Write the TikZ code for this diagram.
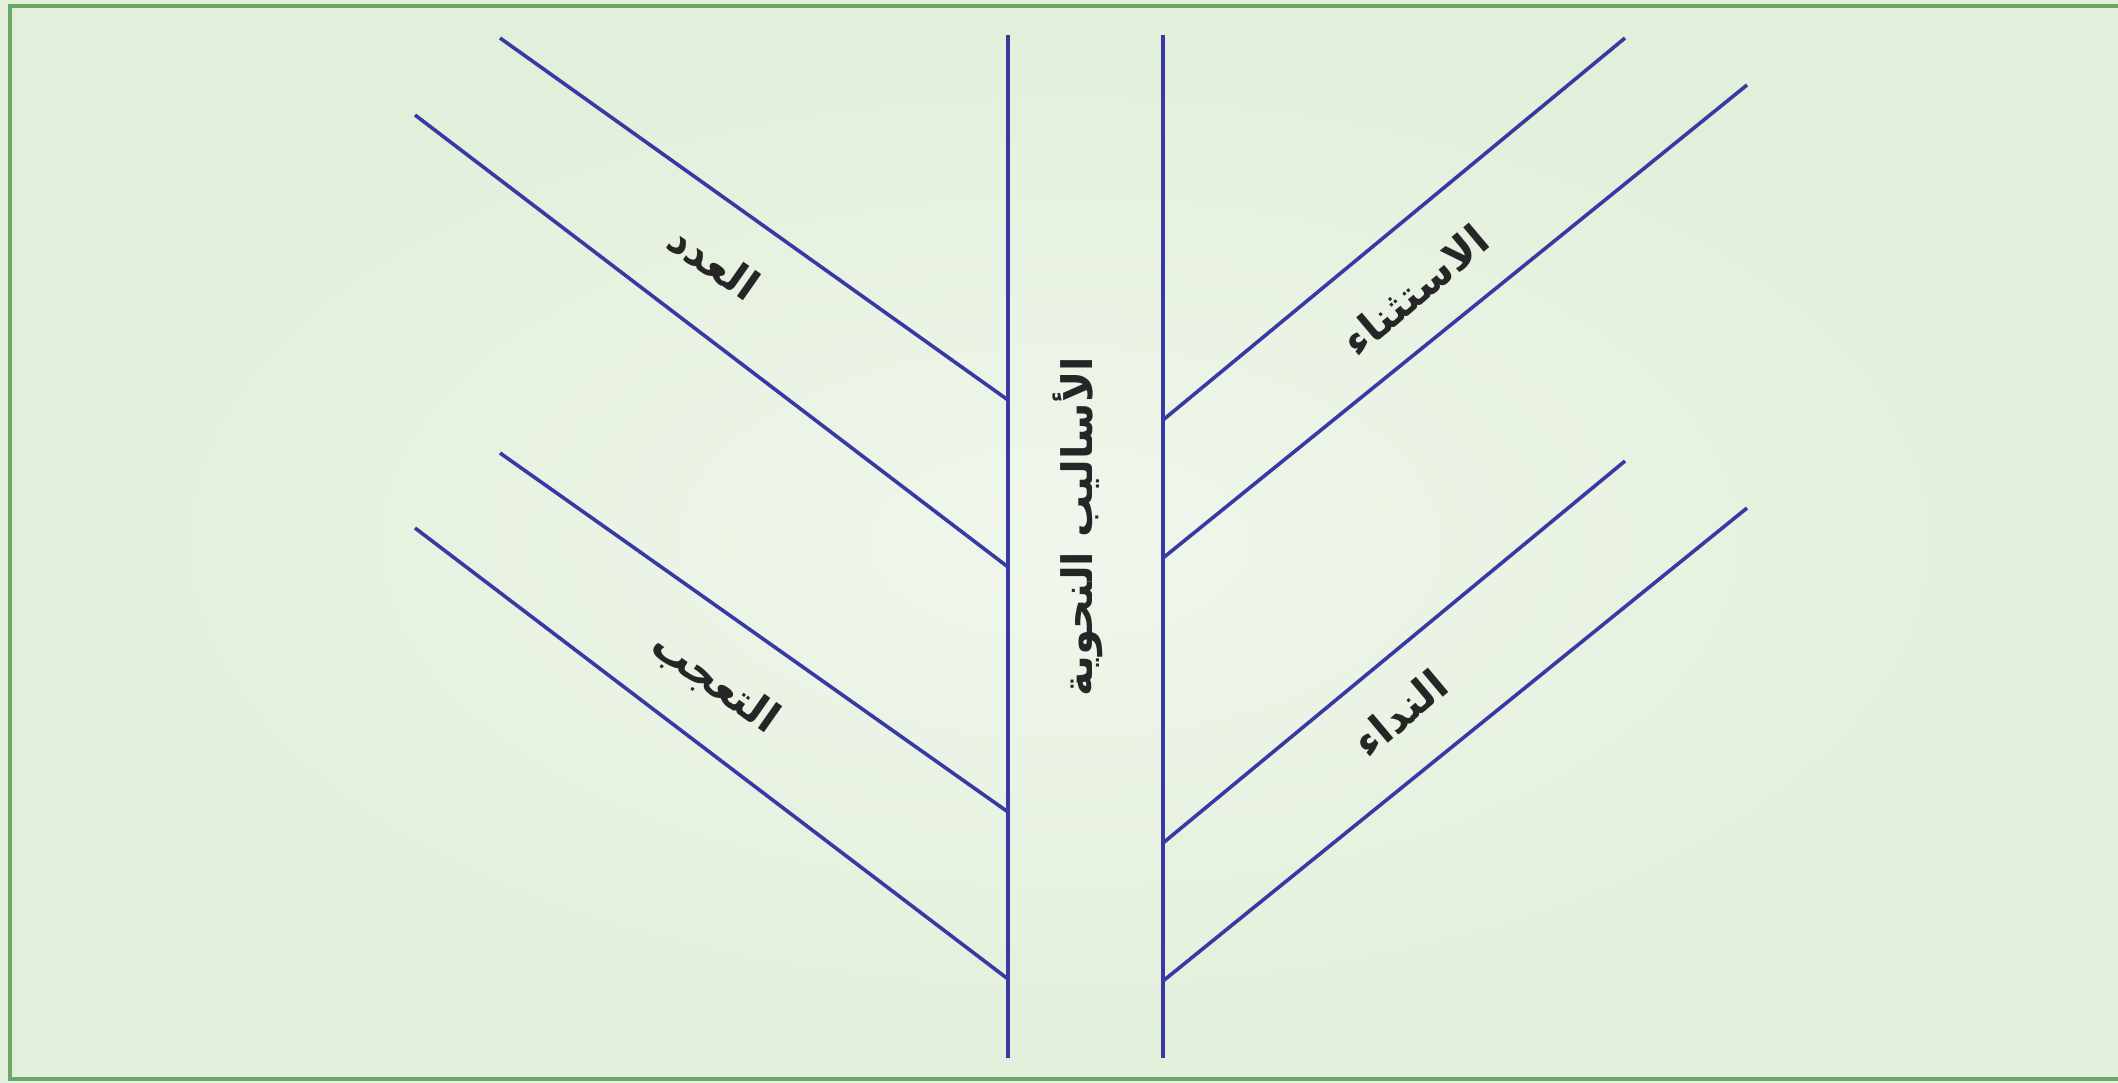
\documentclass[tikz,border=0pt]{standalone}
\usepackage{fontspec}
\TeXXeTstate=1
\newfontfamily\arabicfont[Script=Arabic]{DejaVu Sans}
\definecolor{branchblue}{RGB}{55,58,165}
\definecolor{framegreen}{RGB}{106,168,106}
\definecolor{bginner}{RGB}{240,246,236}
\definecolor{bgouter}{RGB}{226,239,218}
\begin{document}
\begin{tikzpicture}[x=1pt,y=-1pt,
  branch/.style={draw=branchblue, line width=3.6pt},
  lbl/.style={font=\arabicfont\bfseries\fontsize{42}{48}\selectfont, inner sep=0pt, text=black!85}]
\useasboundingbox (0,0) rectangle (2118,1083);
\shade[inner color=bginner, outer color=bgouter] (0,0) rectangle (2118,1083);
\draw[line width=4.5pt, draw=framegreen] (2130,6) -- (10,6) -- (10,1079) -- (2130,1079);
% spine
\coordinate (lt) at (1008,35); \coordinate (lb) at (1008,1058);
\coordinate (rt) at (1163,35); \coordinate (rb) at (1163,1058);
\draw[branch] (lt) -- (lb);
\draw[branch] (rt) -- (rb);
% left branches
\coordinate (a1) at (500,38);  \coordinate (a2) at (1008,400);
\coordinate (b1) at (415,115); \coordinate (b2) at (1008,567);
\coordinate (c1) at (500,453); \coordinate (c2) at (1008,812);
\coordinate (d1) at (415,528); \coordinate (d2) at (1008,979);
\draw[branch] (a1) -- (a2);
\draw[branch] (b1) -- (b2);
\draw[branch] (c1) -- (c2);
\draw[branch] (d1) -- (d2);
% right branches
\coordinate (e1) at (1163,420); \coordinate (e2) at (1625,38);
\coordinate (f1) at (1163,558); \coordinate (f2) at (1747,85);
\coordinate (g1) at (1163,843); \coordinate (g2) at (1625,461);
\coordinate (h1) at (1163,981); \coordinate (h2) at (1747,508);
\draw[branch] (e1) -- (e2);
\draw[branch] (f1) -- (f2);
\draw[branch] (g1) -- (g2);
\draw[branch] (h1) -- (h2);
% labels
\node[lbl, rotate=-35] (adad) at (714,262) {\beginR العدد\endR};
\node[lbl, rotate=-35] (taajub) at (715,683) {\beginR التعجب\endR};
\node[lbl, rotate=40] (istithna) at (1415,290) {\beginR الاستثناء\endR};
\node[lbl, rotate=40] (nida) at (1400,713) {\beginR النداء\endR};
\node[lbl, rotate=90] (asalib) at (1078,527) {\beginR الأساليب النحوية\endR};
\end{tikzpicture}
\end{document}
